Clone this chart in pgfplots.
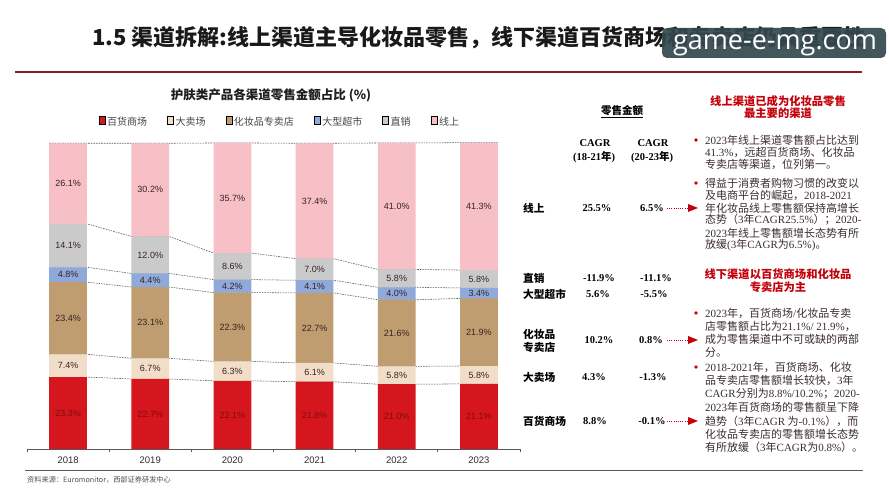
\documentclass[border=0pt]{standalone}
\usepackage{fontspec}
\setmainfont{Liberation Sans}
\newfontfamily\cjk{Noto Sans CJK SC}
\newfontfamily\tnr{Liberation Serif}
\newfontfamily\wm{Open Sans}
\usepackage{pgfplots}
\usepackage{pgfplotstable}
\pgfplotsset{compat=1.18}

% segment colours (bottom to top)
\definecolor{dept}{RGB}{214,22,30}
\definecolor{hyper}{RGB}{242,222,200}
\definecolor{cosm}{RGB}{192,156,113}
\definecolor{super}{RGB}{143,170,218}
\definecolor{direct}{RGB}{202,202,202}
\definecolor{online}{RGB}{246,192,198}
\definecolor{axisgray}{RGB}{90,90,90}
\definecolor{ticktext}{RGB}{45,45,45}
\definecolor{labeltext}{RGB}{55,35,35}
\definecolor{deptlabel}{RGB}{130,10,15}
\definecolor{titlered}{RGB}{140,26,40}
\definecolor{headred}{RGB}{196,0,10}
\definecolor{bodytext}{RGB}{58,45,45}
\definecolor{wmbox}{RGB}{52,72,78}

\newcommand{\tn}[1]{{\tnr #1}}

\pgfplotsset{
  legend image code/.code={\fill[#1] (0pt,-2.6pt) rectangle (5.2pt,2.6pt);},
  frame/.style={at={(27pt,51pt)}, anchor=south west, width=493pt, height=308.5pt,
    scale only axis, xmin=-0.5, xmax=5.5, ymin=0, ymax=100, enlargelimits=false, clip=false},
  conn/.style={draw=axisgray, line width=0.55pt, dash pattern=on 1.6pt off 1pt},
  lbl/.style={draw=none, point meta=explicit symbolic,
    nodes near coords={\pgfplotspointmeta\%}, nodes near coords align=center,
    every node near coord/.append style={anchor=center, inner sep=0pt,
      font=\fontsize{9}{10}\selectfont, text=labeltext}},
}

% share of skin-care retail value by channel (%)
\pgfplotstableread{
idx dept hyper cosm super direct online
0   23.3 7.4   23.4 4.8   14.1   26.1
1   22.7 6.7   23.1 4.4   12.0   30.2
2   22.1 6.3   22.3 4.2   8.6    35.7
3   21.8 6.1   22.7 4.1   7.0    37.4
4   21.0 5.8   21.6 4.0   5.8    41.0
5   21.1 5.8   21.9 3.4   5.8    41.3
}\shares

% cumulative segment boundaries at the left and right edge of each bar
\pgfplotstableread{
x     b1   b2   b3   b4   b5   b6
-0.23 23.3 30.7 54.1 58.9 73.0 99.1
0.23  23.3 30.7 54.1 58.9 73.0 99.1
0.77  22.7 29.4 52.5 56.9 68.9 99.1
1.23  22.7 29.4 52.5 56.9 68.9 99.1
1.77  22.1 28.4 50.7 54.9 63.5 99.2
2.23  22.1 28.4 50.7 54.9 63.5 99.2
2.77  21.8 27.9 50.6 54.7 61.7 99.1
3.23  21.8 27.9 50.6 54.7 61.7 99.1
3.77  21.0 26.8 48.4 52.4 58.2 99.2
4.23  21.0 26.8 48.4 52.4 58.2 99.2
4.77  21.1 26.9 48.8 52.2 58.0 99.3
5.23  21.1 26.9 48.8 52.2 58.0 99.3
}\bounds

\newcommand{\notefont}{\cjk\fontsize{11}{12}\selectfont}
\newcommand{\bodyline}[2]{\node[anchor=west, inner sep=0pt, text=bodytext, font=\notefont]
  at (705,{500-#1}) {#2};}
\newcommand{\bulletdot}[1]{\fill[headred] (696,{500-#1}) circle (1.8);}
\newcommand{\rowlabel}[2]{\node[anchor=west, inner sep=0pt,
  font=\cjk\bfseries\fontsize{10.7}{12}\selectfont] at (523,{500-#1}) {#2};}
\newcommand{\val}[3]{\node[inner sep=0pt, font=\tnr\bfseries\fontsize{10.5}{12}\selectfont]
  at (#1,{500-#2}) {#3};}
\newcommand{\pointer}[1]{%
  \draw[headred, line width=0.8pt, dash pattern=on 0.8pt off 1.4pt] (667,{500-#1}) -- (688,{500-#1});
  \fill[headred] (688,{500-#1+4}) -- (698,{500-#1}) -- (688,{500-#1-4}) -- cycle;}

\begin{document}
\begin{tikzpicture}[x=1pt,y=1pt]
\fill[white] (0,0) rectangle (889,500);
\useasboundingbox (0,0) rectangle (889,500);

% page heading
\node[anchor=west, inner sep=0pt, font=\cjk\bfseries\fontsize{22}{24}\selectfont, text={rgb,255:red,25;green,25;blue,25}]
  at (92,462) {1.5 渠道拆解:线上渠道主导化妆品零售，线下渠道百货商场和专卖店仍具重要性};
\draw[titlered, line width=1.5pt] (15,428) -- (862,428);

% chart heading
\node[inner sep=0pt, font=\cjk\bfseries\fontsize{12.5}{14}\selectfont, text={rgb,255:red,30;green,30;blue,30}]
  at (271,405) {护肤类产品各渠道零售金额占比 (\%)};

% dashed connectors, behind the bars
\begin{axis}[frame, hide axis]
\pgfplotsinvokeforeach{b1,b2,b3,b4,b5,b6}{
  \addplot[conn] table[x=x, y=#1] {\bounds};
}
\end{axis}

% stacked bars
\begin{axis}[frame,
  ybar stacked, bar width=0.46,
  axis y line=none, axis x line*=bottom,
  axis line style={draw=axisgray, line width=0.7pt},
  ytick=\empty,
  xtick={0,...,5}, xticklabels={2018,2019,2020,2021,2022,2023},
  major tick length=0pt,
  extra x ticks={-0.5,0.5,1.5,2.5,3.5,4.5,5.5}, extra x tick labels={},
  extra x tick style={major tick length=3.5pt, tick align=outside,
    xtick style={draw=axisgray, line width=0.7pt}},
  xticklabel style={font=\fontsize{9.5}{10}\selectfont, text=ticktext, yshift=-4pt},
  legend style={at={(0.513,1.06)}, anchor=center, draw=none, fill=none,
    legend columns=6, font=\cjk\fontsize{10}{11}\selectfont,
    text={rgb,255:red,70;green,70;blue,70},
    /tikz/every even column/.append style={column sep=18pt}},
]
\addplot[fill=dept,   draw=none] table[x=idx, y=dept]   {\shares};
\addplot[fill=hyper,  draw=none] table[x=idx, y=hyper]  {\shares};
\addplot[fill=cosm,   draw=none] table[x=idx, y=cosm]   {\shares};
\addplot[fill=super,  draw=none] table[x=idx, y=super]  {\shares};
\addplot[fill=direct, draw=none] table[x=idx, y=direct] {\shares};
\addplot[fill=online, draw=none] table[x=idx, y=online] {\shares};
\legend{百货商场,大卖场,化妆品专卖店,大型超市,直销,线上}
\end{axis}

% value labels centred in each segment
\begin{axis}[frame, hide axis]
\addplot[lbl, every node near coord/.append style={text=deptlabel}]
  table[x=idx, y expr=\thisrow{dept}/2, meta=dept] {\shares};
\addplot[lbl] table[x=idx, y expr=\thisrow{dept}+\thisrow{hyper}/2, meta=hyper] {\shares};
\addplot[lbl] table[x=idx, y expr=\thisrow{dept}+\thisrow{hyper}+\thisrow{cosm}/2, meta=cosm] {\shares};
\addplot[lbl] table[x=idx, y expr=\thisrow{dept}+\thisrow{hyper}+\thisrow{cosm}+\thisrow{super}/2, meta=super] {\shares};
\addplot[lbl] table[x=idx, y expr=\thisrow{dept}+\thisrow{hyper}+\thisrow{cosm}+\thisrow{super}+\thisrow{direct}/2, meta=direct] {\shares};
\addplot[lbl] table[x=idx, y expr=\thisrow{dept}+\thisrow{hyper}+\thisrow{cosm}+\thisrow{super}+\thisrow{direct}+\thisrow{online}/2, meta=online] {\shares};
\end{axis}

% growth table
\node[inner sep=0pt, font=\cjk\bfseries\fontsize{10.5}{12}\selectfont] at (622,388) {\underline{零售金额}};
\node[inner sep=0pt, font=\tnr\bfseries\fontsize{10.5}{12}\selectfont] at (595,357) {CAGR};
\node[inner sep=0pt, font=\tnr\bfseries\fontsize{10.5}{12}\selectfont] at (594,343) {(18-21{\cjk 年})};
\node[inner sep=0pt, font=\tnr\bfseries\fontsize{10.5}{12}\selectfont] at (653,357) {CAGR};
\node[inner sep=0pt, font=\tnr\bfseries\fontsize{10.5}{12}\selectfont] at (652,343) {(20-23{\cjk 年})};

\rowlabel{208}{线上}
\rowlabel{278}{直销}
\rowlabel{294}{大型超市}
\rowlabel{334}{化妆品}
\rowlabel{347}{专卖店}
\rowlabel{377}{大卖场}
\rowlabel{421}{百货商场}

\val{597}{208}{25.5\%}  \val{652}{208}{6.5\%}
\val{599}{278}{-11.9\%} \val{656}{278}{-11.1\%}
\val{598}{294}{5.6\%}   \val{654}{294}{-5.5\%}
\val{599}{340}{10.2\%}  \val{651}{340}{0.8\%}
\val{594}{377}{4.3\%}   \val{653}{377}{-1.3\%}
\val{595}{421}{8.8\%}   \val{652}{421}{-0.1\%}

\pointer{208}
\pointer{340}
\pointer{421}

% commentary
\node[inner sep=0pt, align=center, text=headred, font=\cjk\bfseries\fontsize{11.3}{12.3}\selectfont]
  at (778,393) {线上渠道已成为化妆品零售\\最主要的渠道};
\bulletdot{140}
\bodyline{140}{\tn{2023}年线上渠道零售额占比达到}
\bodyline{152}{\tn{41.3\%}，远超百货商场、化妆品}
\bodyline{164}{专卖店等渠道，位列第一。}
\bulletdot{183}
\bodyline{183}{得益于消费者购物习惯的改变以}
\bodyline{195}{及电商平台的崛起，\tn{2018-2021}}
\bodyline{208}{年化妆品线上零售额保持高增长}
\bodyline{220}{态势（\tn{3}年\tn{CAGR25.5\%}）；\tn{2020-}}
\bodyline{233}{\tn{2023}年线上零售额增长态势有所}
\bodyline{245}{放缓\tn{(3}年\tn{CAGR}为\tn{6.5\%)}。}

\node[inner sep=0pt, align=center, text=headred, font=\cjk\bfseries\fontsize{11.3}{12.8}\selectfont]
  at (778,219.5) {线下渠道以百货商场和化妆品\\专卖店为主};
\bulletdot{313}
\bodyline{313}{\tn{2023}年，百货商场\tn{/}化妆品专卖}
\bodyline{326}{店零售额占比为\tn{21.1\%/ 21.9\%}，}
\bodyline{339}{成为零售渠道中不可或缺的两部}
\bodyline{352}{分。}
\bulletdot{367}
\bodyline{367}{\tn{2018-2021}年，百货商场、化妆}
\bodyline{380}{品专卖店零售额增长较快，\tn{3}年}
\bodyline{394}{\tn{CAGR}分别为\tn{8.8\%/10.2\%}；\tn{2020-}}
\bodyline{407}{\tn{2023}年百货商场的零售额呈下降}
\bodyline{421}{趋势（\tn{3}年\tn{CAGR} 为\tn{-0.1\%}），而}
\bodyline{434}{化妆品专卖店的零售额增长态势}
\bodyline{447}{有所放缓（\tn{3}年\tn{CAGR}为\tn{0.8\%}）。}

% footer
\draw[axisgray, line width=0.8pt] (25,30) -- (863,30);
\node[anchor=west, inner sep=0pt, text={rgb,255:red,80;green,80;blue,80},
  font=\cjk\fontsize{7.2}{8}\selectfont] at (27,20) {资料来源：Euromonitor，西部证券研发中心};

% site stamp
\fill[wmbox, opacity=0.92, rounded corners=5pt] (662,442) rectangle (886,472);
\node[inner sep=0pt, text=white, font=\wm\fontsize{27}{29}\selectfont] at (775,455) {game-e-mg.com};
\end{tikzpicture}
\end{document}
